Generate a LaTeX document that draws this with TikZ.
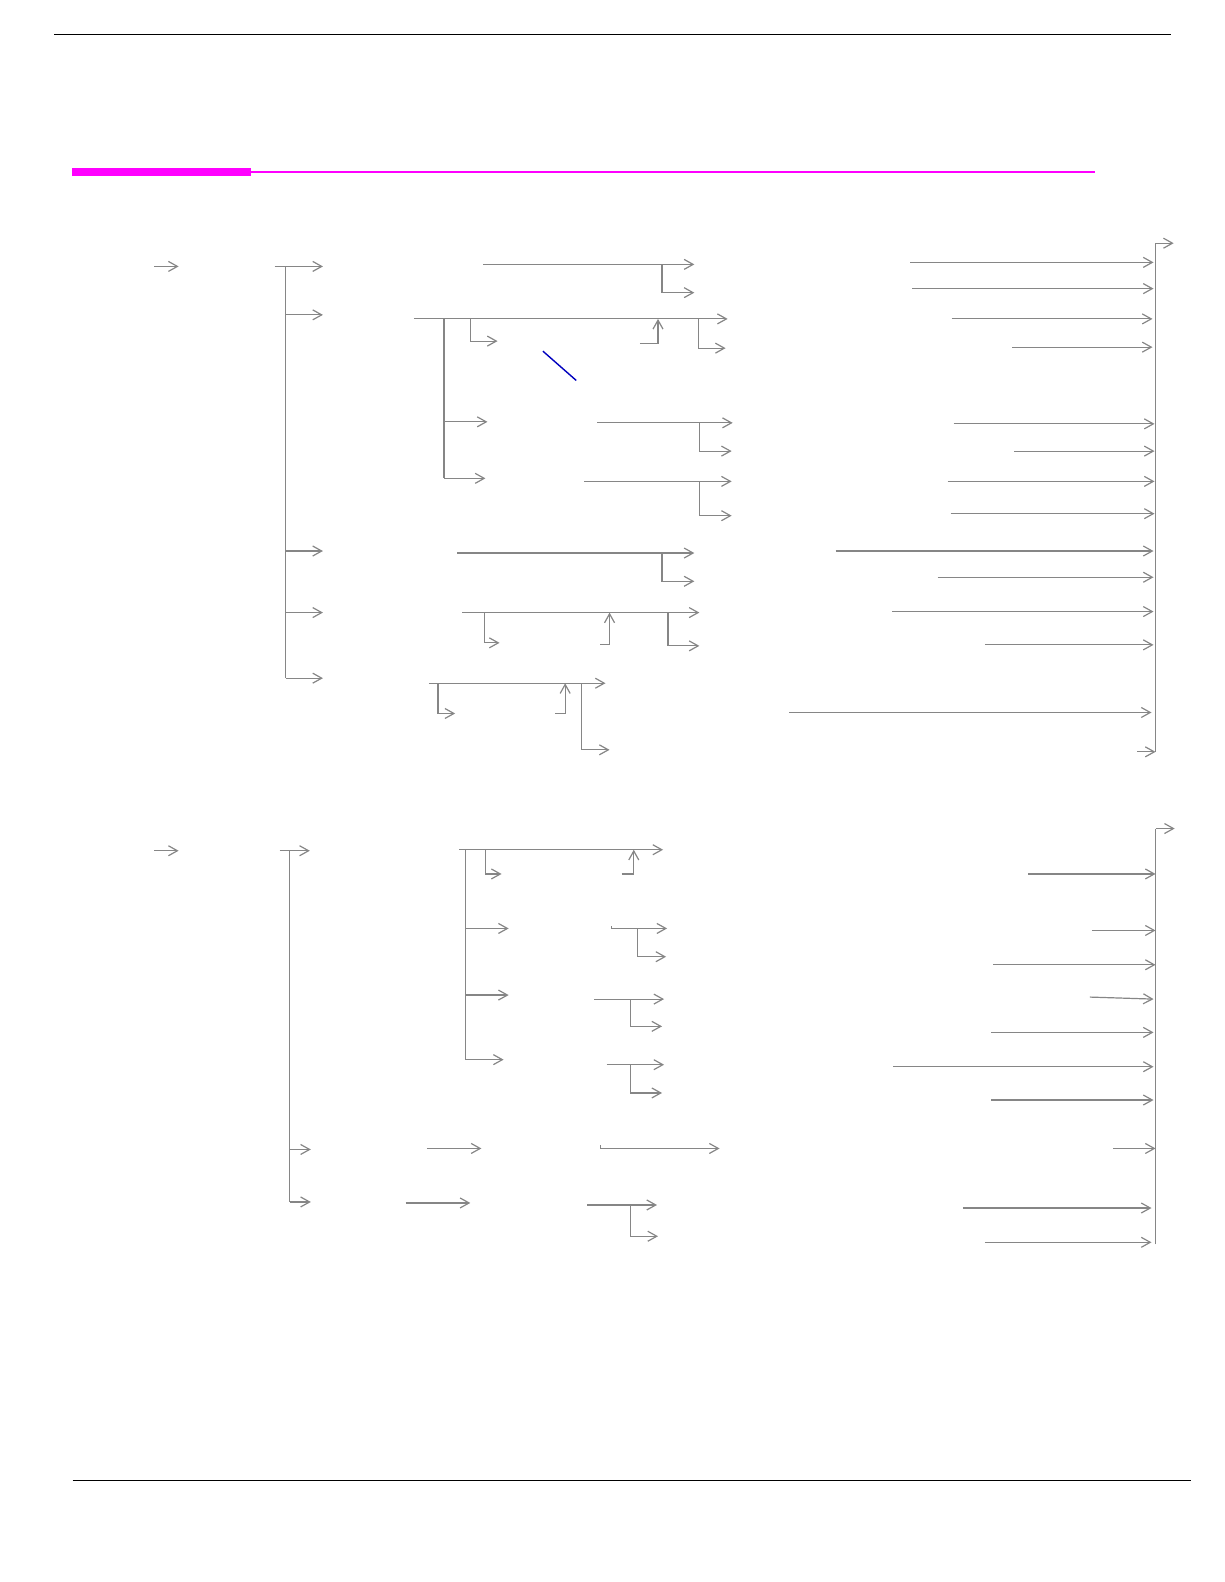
\documentclass[tikz,border=0pt]{standalone}
\usepackage{tikz}
\usetikzlibrary{arrows.meta,calc,positioning}
\definecolor{linkgray}{RGB}{134,134,134}
\definecolor{barmagenta}{RGB}{255,0,255}
\definecolor{slashblue}{RGB}{0,0,190}

\begin{document}
\begin{tikzpicture}[x=0.5046pt,y=-0.5046pt,
	link/.style={draw=linkgray,line width=0.6pt,-{Straight Barb[length=4.5pt,width=5pt]}},
	rule/.style={draw=linkgray,line width=0.6pt}]
	\useasboundingbox (0pt,0pt) rectangle (612pt,-791pt);

	% page rules and title bar
	\draw[line width=0.5pt] (54,34) -- (1160,34);
	\draw[line width=0.5pt] (72,1467) -- (1180,1467);
	\fill[barmagenta] (71,166.5) rectangle (249,174);
	\draw[barmagenta,line width=1pt] (249,170) -- (1085,170);

	% ---------- first tree ----------
	\coordinate (root1) at (283,264);
	\draw[link] (153,264) -- (177,264);
	\draw[link] (272,264) -- (320,264);
	\draw[rule] (root1) -- (283,672);
	\draw[link] (283,312) -- (320,312);
	\draw[link] (283,546) -- (320,546);
	\draw[link] (283,607) -- (320,607);
	\draw[link] (283,672) -- (320,672);

	% row a
	\coordinate (ra) at (656,262);
	\draw[link] (479,262) -- (688,262);
	\draw[link] (ra) |- (688,290);

	% row b
	\coordinate (rb) at (440,316);
	\draw[link] (410,316) -- (721,316);
	\draw[rule] (rb) -- (440,474);
	\draw[link] (466,316) |- (493,338);
	\draw[link] (634,340) -| (652,316);
	\draw[link] (692,316) |- (719,345);
	\draw[link] (440,418) -- (483,418);
	\draw[link] (440,474) -- (481,474);
	\draw[slashblue,line width=0.7pt] (538,348) -- (571,377);

	\draw[link] (592,419) -- (726,419);
	\draw[link] (693,419) |- (725,447);
	\draw[link] (579,477) -- (725,477);
	\draw[link] (693,477) |- (725,511);

	% row c
	\draw[link] (453,548) -- (688,548);
	\draw[link] (656,548) |- (688,576);

	% row d
	\draw[link] (458,607) -- (693,607);
	\draw[link] (480,607) |- (495,637);
	\draw[link] (595,639) -| (604,607);
	\draw[link] (662,607) |- (693,640);

	% row e
	\draw[link] (425,677) -- (600,677);
	\draw[link] (434,677) |- (451,707);
	\draw[link] (550,707) -| (560,677);
	\draw[link] (576,677) |- (604,743);

	% right collector
	\coordinate (col1) at (1145,241);
	\draw[link] (1145,745) -- (col1) -- (1163,241);
	\draw[link] (902,260) -- (1143,260);
	\draw[link] (904,286) -- (1143,286);
	\draw[link] (943,316) -- (1142,316);
	\draw[link] (1003,344) -- (1142,344);
	\draw[link] (945,420) -- (1144,420);
	\draw[link] (1005,447) -- (1144,447);
	\draw[link] (939,477) -- (1144,477);
	\draw[link] (942,509) -- (1144,509);
	\draw[link] (828,546) -- (1143,546);
	\draw[link] (929,572) -- (1143,572);
	\draw[link] (884,606) -- (1143,606);
	\draw[link] (976,639) -- (1143,639);
	\draw[link] (782,706) -- (1141,706);
	\draw[link] (1127,745) -- (1145,745);

	% ---------- second tree ----------
	\coordinate (root2) at (287,843);
	\draw[link] (153,843) -- (177,843);
	\draw[link] (277,843) -- (307,843);
	\draw[rule] (root2) -- (287,1191);
	\draw[link] (287,1139) -- (308,1139);
	\draw[link] (287,1191) -- (308,1191);

	% row f
	\coordinate (rf) at (461,842);
	\draw[link] (455,842) -- (657,842);
	\draw[rule] (rf) -- (461,1050);
	\draw[link] (481,842) |- (497,866);
	\draw[link] (616,866) -| (628,842);
	\draw[link] (461,920) -- (504,920);
	\draw[link] (461,986) -- (504,986);
	\draw[link] (461,1050) -- (499,1050);

	\draw[link] (606,918) -- (606,920) -- (661,920);
	\draw[link] (632,920) |- (660,948);
	\draw[link] (589,990) -- (658,990);
	\draw[link] (625,990) |- (656,1017);
	\draw[link] (601,1055) -- (658,1055);
	\draw[link] (625,1055) |- (656,1083);

	% row g
	\draw[link] (423,1138) -- (477,1138);
	\draw[link] (595,1135) -- (595,1138) -- (713,1138);

	% row h
	\draw[link] (402,1192) -- (466,1192);
	\draw[link] (582,1194) -- (651,1194);
	\draw[link] (625,1194) |- (652,1225);

	% right collector
	\coordinate (col2) at (1145,821);
	\draw[rule] (1145,1233) -- (col2);
	\draw[link] (col2) -- (1164,821);
	\draw[link] (1019,866) -- (1145,866);
	\draw[link] (1082,922) -- (1145,922);
	\draw[link] (984,956) -- (1145,956);
	\draw[link] (1080,988) -- (1143,990);
	\draw[link] (982,1023) -- (1143,1023);
	\draw[link] (885,1057) -- (1143,1057);
	\draw[link] (982,1090) -- (1143,1090);
	\draw[link] (1103,1138) -- (1145,1138);
	\draw[link] (954,1197) -- (1141,1197);
	\draw[link] (976,1231) -- (1141,1231);
\end{tikzpicture}
\end{document}
